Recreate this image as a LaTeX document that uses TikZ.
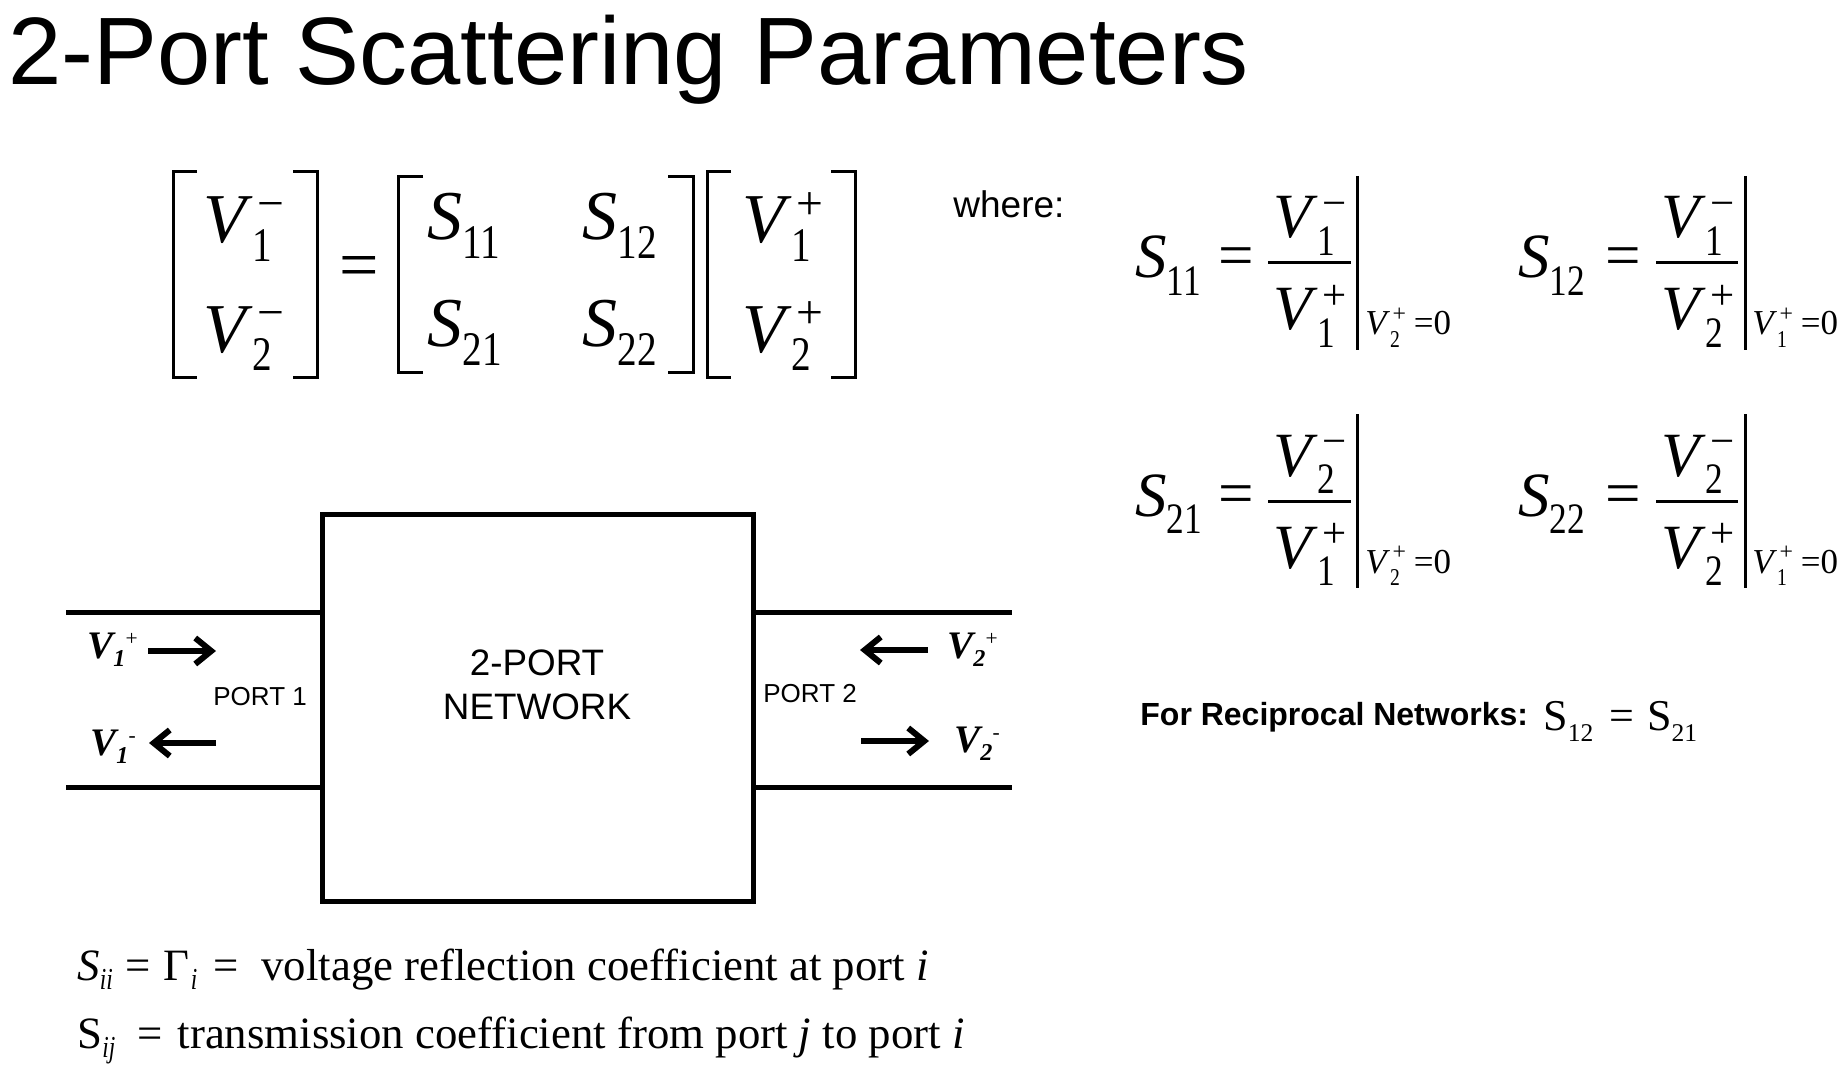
\documentclass[tikz,border=0pt]{standalone}
\usepackage{fontspec}
\setmainfont{Liberation Serif}
\setsansfont{Liberation Sans}
\usetikzlibrary{arrows.meta,positioning}

\newcommand{\fsz}[1]{\fontsize{#1}{#1}\selectfont}
\newcommand{\lsub}[2][0.56]{\raisebox{-0.27em}{\scalebox{#1}[0.69]{#2}}}
\newcommand{\Vss}[2]{\textit{V}\rlap{\kern0.07em\raisebox{0.33em}{\scalebox{0.68}{#2}}}\lsub{#1}}
\newcommand{\Vev}[2]{\textit{V}\rlap{\kern0.07em\raisebox{0.38em}{\scalebox{0.68}{#2}}}\raisebox{-0.37em}{\scalebox{0.56}[0.69]{#1}}}
\newcommand{\Sss}[1]{\textit{S}\lsub{#1}}
\newcommand{\wv}[2]{V\raisebox{-0.23em}{\scalebox{0.62}{#1}}\raisebox{0.33em}{\scalebox{0.55}{\mdseries\upshape #2}}}
\newcommand{\dsub}[1]{\raisebox{-0.22em}{\scalebox{0.52}[0.68]{\textit{#1}}}}

\begin{document}
\begin{tikzpicture}[x=0.5pt, y=-0.5pt]

   \tikzstyle{txt}=[inner sep=0, anchor=base west]
   \tikzstyle{eqn}=[txt, font=\fsz{35pt}]
   \tikzstyle{frac}=[txt, font=\fsz{31.5pt}]
   \tikzstyle{evl}=[txt, font=\fsz{17.5pt}]
   \tikzstyle{eqsign}=[inner sep=0]
   \tikzstyle{brk}=[line width=1.5pt]
   \tikzstyle{fbar}=[line width=1.5pt]
   \tikzstyle{tline}=[line width=2.5pt]
   \tikzstyle{netbox}=[rectangle, draw, line width=2.5pt, minimum width=215.75pt, minimum height=193.5pt, inner sep=0]
   \tikzstyle{port}=[txt, font=\sffamily\fsz{13pt}]
   \tikzstyle{wave}=[txt, font=\bfseries\itshape\fsz{19.5pt}]
   \tikzstyle{warrow}=[line width=3pt, -{Straight Barb[length=8pt, width=13pt]}]

   \useasboundingbox (0,0) rectangle (1843,1075);

   \node[txt, font=\sffamily\fsz{47.9pt}] (title) at (8,85) {2-Port Scattering Parameters};

   % matrix form
   \node[eqn] (vm1) at (203,243) {\Vss{1}{−}};
   \node[eqn] (vm2) at (203,352) {\Vss{2}{−}};
   \node[eqsign, font=\fsz{35pt}] (eqm) at (359,273) {=};
   \node[eqn] (s11) at (427,240) {\Sss{11}};
   \node[eqn] (s12) at (582,240) {\Sss{12}};
   \node[eqn] (s21) at (427,347) {\Sss{21}};
   \node[eqn] (s22) at (582,347) {\Sss{22}};
   \node[eqn] (vp1) at (742,243) {\Vss{1}{+}};
   \node[eqn] (vp2) at (742,352) {\Vss{2}{+}};

   \draw[brk] (197,172) -- (173,172) -- (173,378) -- (197,378);
   \draw[brk] (293,172) -- (317,172) -- (317,378) -- (293,378);
   \draw[brk] (423,177) -- (398,177) -- (398,373) -- (423,373);
   \draw[brk] (668,177) -- (693,177) -- (693,373) -- (668,373);
   \draw[brk] (731,172) -- (707,172) -- (707,378) -- (731,378);
   \draw[brk] (831,172) -- (855,172) -- (855,378) -- (831,378);

   \node[txt, font=\sffamily\fsz{18.5pt}] (where) at (953,218) {where:};

   % definitions
   \node[frac] (d11) at (1135,278) {\Sss{11}};
   \node[eqsign, font=\fsz{31.5pt}] (e11) at (1236,262) {=};
   \node[frac] (n11) at (1273,238) {\Vss{1}{−}};
   \node[frac] (m11) at (1273,330) {\Vss{1}{+}};
   \node[evl] (c11) at (1365,335) {\Vev{2}{+}\hspace{0.4em}=0};
   \draw[fbar] (1268,263) -- (1351,263);
   \draw[fbar] (1357,176) -- (1357,350);

   \node[frac] (d12) at (1518,278) {\Sss{12}};
   \node[eqsign, font=\fsz{31.5pt}] (e12) at (1623,262) {=};
   \node[frac] (n12) at (1661,238) {\Vss{1}{−}};
   \node[frac] (m12) at (1661,330) {\Vss{2}{+}};
   \node[evl] (c12) at (1752,335) {\Vev{1}{+}\hspace{0.4em}=0};
   \draw[fbar] (1656,263) -- (1738,263);
   \draw[fbar] (1745,176) -- (1745,350);

   \node[frac] (d21) at (1135,516) {\Sss{21}};
   \node[eqsign, font=\fsz{31.5pt}] (e21) at (1236,500) {=};
   \node[frac] (n21) at (1273,476) {\Vss{2}{−}};
   \node[frac] (m21) at (1273,568) {\Vss{1}{+}};
   \node[evl] (c21) at (1365,573) {\Vev{2}{+}\hspace{0.4em}=0};
   \draw[fbar] (1268,501) -- (1351,501);
   \draw[fbar] (1357,414) -- (1357,588);

   \node[frac] (d22) at (1518,516) {\Sss{22}};
   \node[eqsign, font=\fsz{31.5pt}] (e22) at (1623,500) {=};
   \node[frac] (n22) at (1661,476) {\Vss{2}{−}};
   \node[frac] (m22) at (1661,568) {\Vss{2}{+}};
   \node[evl] (c22) at (1752,573) {\Vev{1}{+}\hspace{0.4em}=0};
   \draw[fbar] (1656,501) -- (1738,501);
   \draw[fbar] (1745,414) -- (1745,588);

   \node[txt, font=\sffamily\bfseries\fsz{16pt}] (recip) at (1140,725) {For Reciprocal Networks:};
   \node[txt, font=\fsz{22pt}] (recipeq) at (1543,730) {S\raisebox{-0.27em}{\scalebox{0.58}{12}}\hspace{0.36em}=\hspace{0.3em}S\raisebox{-0.27em}{\scalebox{0.58}{21}}};

   % network
   \node[netbox] (box) at (538,707.5) {};
   \node[anchor=base, inner sep=0, font=\sffamily\fsz{18.4pt}] (net1) at (537,675) {2-PORT};
   \node[anchor=base, inner sep=0, font=\sffamily\fsz{18.4pt}] (net2) at (537,719) {NETWORK};

   \coordinate (lt) at (66,612);
   \coordinate (lb) at (66,787);
   \coordinate (rt) at (1012,612);
   \coordinate (rb) at (1012,787);
   \draw[tline] (lt) -- (lt -| box.west);
   \draw[tline] (lb) -- (lb -| box.west);
   \draw[tline] (rt -| box.east) -- (rt);
   \draw[tline] (rb -| box.east) -- (rb);

   \node[port] (p1) at (213,705) {PORT 1};
   \node[port] (p2) at (763,702) {PORT 2};

   \node[wave] (v1p) at (87,658) {\wv{1}{+}};
   \node[wave] (v1m) at (90,755) {\wv{1}{-}};
   \node[wave] (v2p) at (947,658) {\wv{2}{+}};
   \node[wave] (v2m) at (954,752) {\wv{2}{-}};

   \coordinate (a1) at (148,651);
   \coordinate (a2) at (216,651);
   \coordinate (a3) at (216,743);
   \coordinate (a4) at (149,743);
   \coordinate (a5) at (928,650);
   \coordinate (a6) at (860,650);
   \coordinate (a7) at (861,741);
   \coordinate (a8) at (929,741);
   \draw[warrow] (a1) -- (a2);
   \draw[warrow] (a3) -- (a4);
   \draw[warrow] (a5) -- (a6);
   \draw[warrow] (a7) -- (a8);

   % meaning of the parameters
   \node[txt, font=\fsz{22.4pt}] (def1) at (77,980) {\textit{S}\dsub{ii}\hspace{0.28em}=\hspace{0.29em}Γ\hspace{0.03em}\dsub{i}\hspace{0.37em}=\hspace{0.5em}voltage reflection coefficient at port \textit{i}};
   \node[txt, font=\fsz{22.4pt}] (def2) at (77,1048) {S\dsub{ij}\hspace{0.5em}=\hspace{0.33em}transmission coefficient from port \textit{j} to port \textit{i}};

\end{tikzpicture}
\end{document}
